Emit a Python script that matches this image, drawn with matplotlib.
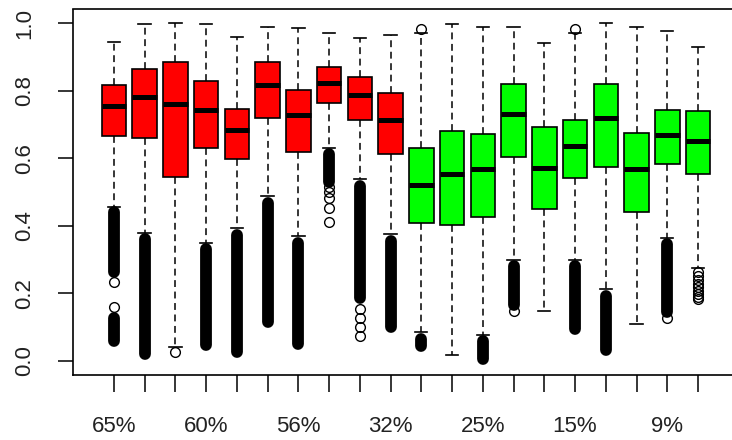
import matplotlib
matplotlib.use("Agg")
import matplotlib.pyplot as plt

# boxplot stats (20 groups)
labels = ["65%", "", "", "60%", "", "", "56%", "", "", "32%",
          "", "", "25%", "", "", "15%", "", "", "9%", ""]
colors = ["#ff0000"] * 10 + ["#00ff00"] * 10

q1 = [0.667, 0.661, 0.545, 0.629, 0.598, 0.718, 0.619, 0.764, 0.713, 0.612,
      0.408, 0.402, 0.427, 0.605, 0.449, 0.540, 0.573, 0.442, 0.583, 0.552]
med = [0.754, 0.782, 0.761, 0.744, 0.683, 0.818, 0.729, 0.824, 0.787, 0.713,
       0.521, 0.552, 0.567, 0.730, 0.572, 0.636, 0.718, 0.567, 0.670, 0.652]
q3 = [0.817, 0.864, 0.886, 0.828, 0.746, 0.886, 0.802, 0.870, 0.839, 0.792,
      0.629, 0.681, 0.672, 0.821, 0.691, 0.713, 0.821, 0.675, 0.744, 0.740]
whis_hi = [0.945, 0.996, 0.999, 0.996, 0.960, 0.989, 0.984, 0.969, 0.957, 0.964,
           0.970, 0.996, 0.989, 0.989, 0.942, 0.970, 0.999, 0.989, 0.977, 0.930]
whis_lo = [0.455, 0.380, 0.040, 0.350, 0.393, 0.488, 0.370, 0.630, 0.538, 0.375,
           0.085, 0.018, 0.078, 0.300, 0.149, 0.300, 0.212, 0.109, 0.365, 0.275]

# single outliers (open circles)
outliers = {
    0: [0.233, 0.161],
    2: [0.028],
    7: [0.515, 0.500, 0.482, 0.452, 0.410],
    8: [0.155, 0.128, 0.100, 0.075],
    10: [0.981],
    13: [0.147],
    15: [0.982],
    18: [0.128],
    19: [0.262, 0.251, 0.240, 0.229, 0.218, 0.207, 0.197, 0.188, 0.182],
}

# dense runs of outliers that print as solid black columns: (group, low, high)
dense = [(0, 0.262, 0.440), (0, 0.060, 0.128), (1, 0.021, 0.362),
         (3, 0.046, 0.330), (4, 0.027, 0.374), (5, 0.115, 0.468),
         (6, 0.051, 0.350), (7, 0.530, 0.612), (8, 0.185, 0.518),
         (9, 0.100, 0.355), (10, 0.045, 0.065), (12, 0.006, 0.060),
         (13, 0.165, 0.281), (15, 0.095, 0.281), (16, 0.033, 0.192),
         (18, 0.145, 0.345)]

plt.rcParams["font.family"] = ["Liberation Sans", "DejaVu Sans"]

fig = plt.figure(figsize=(7.32, 4.40), dpi=100)
ax = fig.add_axes([73 / 732, 1 - 374.5 / 440, 665 / 732, 365 / 440])

stats = []
for i in range(len(q1)):
    stats.append(dict(med=med[i], q1=q1[i], q3=q3[i], whislo=whis_lo[i],
                      whishi=whis_hi[i], fliers=outliers.get(i, [])))

pos = list(range(1, len(q1) + 1))
bp = ax.bxp(stats, positions=pos, widths=0.8, capwidths=0.4, patch_artist=True,
            boxprops=dict(edgecolor="black", linewidth=1.2),
            medianprops=dict(color="black", linewidth=3.6, solid_capstyle="butt"),
            whiskerprops=dict(color="black", linewidth=1.1, linestyle=(0, (4.5, 3))),
            capprops=dict(color="black", linewidth=1.2),
            flierprops=dict(marker="o", markerfacecolor="none", markeredgecolor="black",
                            markersize=7, markeredgewidth=1.0))
for patch, c in zip(bp["boxes"], colors):
    patch.set_facecolor(c)

for g, lo, hi in dense:
    ax.vlines(pos[g], lo, hi, colors="black", linewidth=8.5, capstyle="round", zorder=3)

ax.set_xlim(-0.33, 21.3)
ax.set_ylim(-0.04, 1.04)
ax.set_xticks(pos)
ax.set_xticklabels(labels)
ax.set_yticks([0.0, 0.2, 0.4, 0.6, 0.8, 1.0])
ax.set_yticklabels(["0.0", "0.2", "0.4", "0.6", "0.8", "1.0"], rotation=90, va="center")
ax.tick_params(axis="x", length=12, width=1.1, pad=18, labelsize=16, labelcolor="#222222")
ax.tick_params(axis="y", length=11, width=1.1, pad=16, labelsize=16, labelcolor="#222222")
for s in ax.spines.values():
    s.set_linewidth(1.2)

fig.savefig("out.png", dpi=100)
